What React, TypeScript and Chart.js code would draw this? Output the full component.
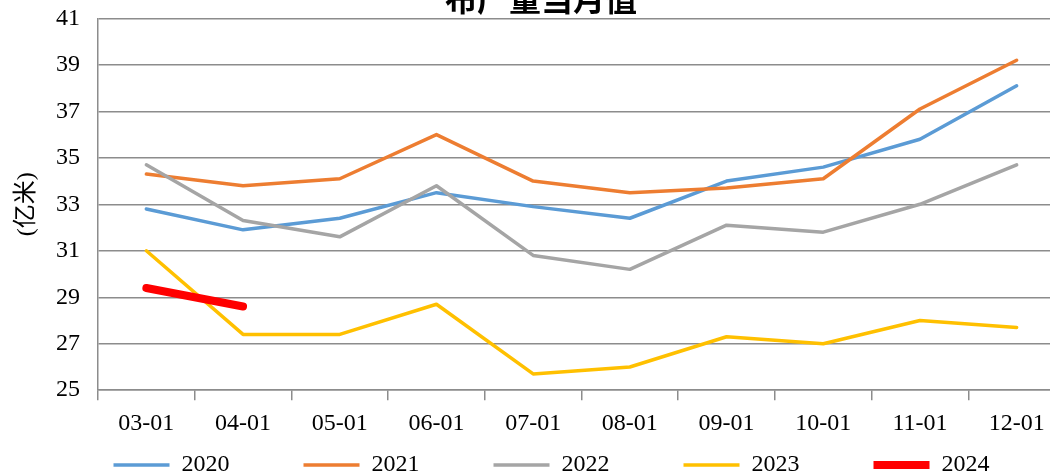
import React, { useEffect, useRef } from "react";
import { Chart, registerables } from "chart.js";

Chart.register(...registerables);

const titleText = "布产量当月值";
const yAxisTitle = "(亿米)";
const categories = ["03-01", "04-01", "05-01", "06-01", "07-01", "08-01", "09-01", "10-01", "11-01", "12-01"];
const seriesNames = ["2020", "2021", "2022", "2023", "2024"];
const s2020 = [32.8, 31.9, 32.4, 33.5, 32.9, 32.4, 34.0, 34.6, 35.8, 38.1];
const s2021 = [34.3, 33.8, 34.1, 36.0, 34.0, 33.5, 33.7, 34.1, 37.1, 39.2];
const s2022 = [34.7, 32.3, 31.6, 33.8, 30.8, 30.2, 32.1, 31.8, 33.0, 34.7];
const s2023 = [31.0, 27.4, 27.4, 28.7, 25.7, 26.0, 27.3, 27.0, 28.0, 27.7];
const s2024 = [29.4, 28.6, null, null, null, null, null, null, null, null];
const yMin = 25;
const yMax = 41;
const yStep = 2;

const colors = ["#5B9BD5", "#ED7D31", "#A5A5A5", "#FFC000", "#FF0000"];
const widths = [3.5, 3.5, 3.5, 3.5, 8];
const allSeries = [s2020, s2021, s2022, s2023, s2024];

const SERIF = "'Liberation Serif', 'Times New Roman', 'Noto Sans CJK SC', serif";
const GRID = "#8c8c8c";
const PAD = "\u00A0".repeat(10);

export default function App() {
  const ref = useRef<HTMLCanvasElement | null>(null);

  useEffect(() => {
    if (!ref.current) return;
    const chart = new Chart(ref.current, {
      type: "line",
      data: {
        labels: categories,
        datasets: allSeries.map((d, i) => ({
          label: seriesNames[i] + PAD,
          data: d,
          borderColor: colors[i],
          backgroundColor: colors[i],
          borderWidth: widths[i],
          borderCapStyle: "round",
          borderJoinStyle: "round",
          pointRadius: 0,
          pointHoverRadius: 0,
          tension: 0,
          spanGaps: false,
          order: 5 - i,
        })),
      },
      options: {
        animation: false,
        responsive: false,
        devicePixelRatio: 1,
        layout: { padding: { left: 17, right: 0, top: 0, bottom: 0 } },
        plugins: {
          tooltip: { enabled: false },
          title: {
            display: true,
            text: titleText,
            color: "#000",
            font: { family: "'Noto Sans CJK SC', sans-serif", size: 32, weight: "bold", lineHeight: 1.2 },
            padding: { top: 10, bottom: 0 },
          },
          legend: {
            display: true,
            position: "bottom",
            fullSize: false,
            align: "center",
            labels: {
              usePointStyle: true,
              pointStyle: "line",
              pointStyleWidth: 56,
              boxWidth: 56,
              padding: 14,
              color: "#000",
              font: { family: SERIF, size: 24 },
              sort: (a: any, b: any) => a.datasetIndex - b.datasetIndex,
            },
          },
        },
        scales: {
          x: {
            type: "category",
            offset: true,
            grid: {
              display: true,
              drawOnChartArea: false,
              drawTicks: true,
              tickLength: 10,
              color: GRID,
              lineWidth: 1.5,
              offset: true,
            },
            border: { display: true, color: GRID, width: 1.5 },
            ticks: {
              color: "#000",
              font: { family: SERIF, size: 24 },
              padding: 9,
              maxRotation: 0,
              autoSkip: false,
            },
            afterFit: (s: any) => {
              s.height = s.height - 8;
            },
          },
          y: {
            min: yMin,
            max: yMax,
            grid: { color: GRID, lineWidth: 1.5, drawTicks: false },
            border: { display: true, color: GRID, width: 1.5 },
            ticks: {
              stepSize: yStep,
              color: "#000",
              font: { family: SERIF, size: 24 },
              padding: 18,
            },
            title: {
              display: true,
              text: yAxisTitle,
              color: "#000",
              font: { family: SERIF, size: 24, lineHeight: 0.8 },
              padding: 0,
            },
            afterFit: (s: any) => {
              s.width = 81;
            },
          },
        },
      },
    } as any);
    return () => chart.destroy();
  }, []);

  return (
    <div
      style={{
        position: "fixed",
        left: 0,
        top: 0,
        width: 1050,
        height: 476,
        overflow: "hidden",
        background: "#fff",
      }}
    >
      <canvas
        ref={ref}
        width={1065}
        height={517}
        style={{ position: "absolute", left: 0, top: -30, width: 1065, height: 517 }}
      />
    </div>
  );
}
